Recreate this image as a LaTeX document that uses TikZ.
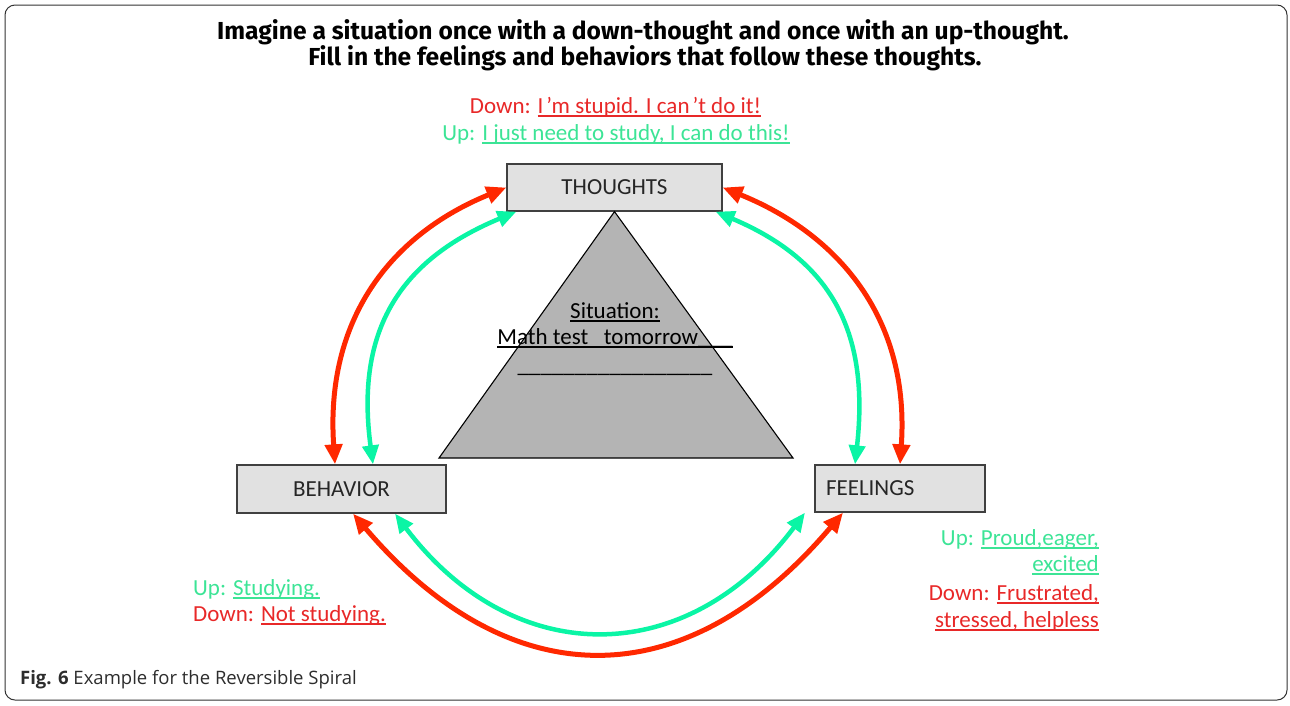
\documentclass[tikz,border=0pt]{standalone}
\usepackage{fontspec}
\setmainfont{Carlito}
\newfontfamily\titlefont{Fira Sans}
\newfontfamily\capfont{Open Sans}
\usetikzlibrary{arrows.meta}
\newcommand\myul[1]{\setbox0\hbox{#1}\rlap{\rule[-3.5pt]{\wd0}{1.1pt}}\box0}
\definecolor{arrred}{RGB}{255,40,0}
\definecolor{arrgreen}{RGB}{10,245,165}
\definecolor{txtred}{RGB}{232,40,40}
\definecolor{txtgreen}{RGB}{60,228,150}
\definecolor{boxfill}{RGB}{225,225,225}
\definecolor{trifill}{RGB}{180,180,180}
\definecolor{capgray}{RGB}{45,45,45}
\begin{document}
\begin{tikzpicture}[x=1pt,y=-1pt,
  every node/.style={font=\fontsize{23}{27}\selectfont, inner sep=0pt},
  boxnode/.style={draw=black!75, line width=1.3pt, fill=boxfill, text=black!85},
  redarr/.style={draw=arrred, line width=5pt, arrows={Triangle[length=20pt,width=17pt]-Triangle[length=20pt,width=17pt]}},
  greenarr/.style={draw=arrgreen, line width=4.5pt, arrows={Triangle[length=19pt,width=16pt]-Triangle[length=19pt,width=16pt]}},
  redtxt/.style={text=txtred},
  greentxt/.style={text=txtgreen},
  titletxt/.style={font=\titlefont\bfseries\fontsize{24.6}{29}\selectfont, text=black},
  captxt/.style={font=\capfont\fontsize{18.5}{22}\selectfont, text=capgray}]
\useasboundingbox (0,0) rectangle (1290,705);
\draw[rounded corners=10pt, line width=1pt, black!80] (5,5) rectangle (1287,700);

% title
\node[titletxt, anchor=base] (t1) at (643,39) {Imagine a situation once with a down-thought and once with an up-thought.};
\node[titletxt, anchor=base] (t2) at (645,65) {Fill in the feelings and behaviors that follow these thoughts.};

% boxes
\node[boxnode, minimum width=215pt, minimum height=47pt] (th) at (614.5,187.5) {THOUGHTS};
\node[boxnode, minimum width=209pt, minimum height=48pt] (be) at (341.5,489) {BEHAVIOR};
\node[boxnode, minimum width=170pt, minimum height=47pt, text width=148pt, align=left, inner xsep=11pt] (fe) at (900,488.5) {FEELINGS};

% triangle
\filldraw[fill=trifill, draw=black, line width=1.1pt] (th.south) -- (793,458) -- (439,458) -- cycle;
\node[anchor=base] (sit) at (615,318) {\myul{Situation:}};
\node[anchor=base] (math) at (615,344) {\myul{Math test\ \ \ tomorrow\_\_\_}};
\node[anchor=base] (blank) at (615,372) {\_\_\_\_\_\_\_\_\_\_\_\_\_\_\_\_\_};

% arrows
\draw[redarr] ([xshift=-6.5pt]be.north) .. controls (325,320) and (390,235) .. (th.west);
\draw[greenarr] ([xshift=31.5pt]be.north) .. controls (355,330) and (400,260) .. ([xshift=10pt]th.south west);
\draw[redarr] (th.east) .. controls (840,235) and (910,320) .. (fe.north);
\draw[greenarr] ([xshift=-7pt]th.south east) .. controls (830,260) and (870,330) .. ([xshift=-45pt]fe.north);
\draw[greenarr] ([xshift=53.5pt]be.south) .. controls (513,670) and (687,670) .. ([xshift=-95pt]fe.south);
\draw[redarr] ([xshift=11.5pt]be.south) .. controls (510,698) and (686,698) .. ([xshift=-57pt]fe.south);

% thought texts
\node[redtxt, anchor=base] (tdown) at (615.5,113) {Down: \myul{I\kern3pt’m stupid. I can\kern3pt’t do it!}};
\node[greentxt, anchor=base] (tup) at (616,140) {Up: \myul{I just need to study, I can do this!}};

% behavior texts
\node[greentxt, anchor=base west] (bup) at (193,595) {Up: \myul{Studying.}};
\node[redtxt, anchor=base west] (bdown) at (193,621) {Down: \myul{Not studying.}};

% feelings texts
\node[greentxt, anchor=base east] (fup1) at (1099,545) {Up: \myul{Proud,eager,}};
\node[greentxt, anchor=base east] (fup2) at (1099,571) {\myul{excited}};
\node[redtxt, anchor=base east] (fdown1) at (1099,600) {Down: \myul{Frustrated,}};
\node[redtxt, anchor=base east] (fdown2) at (1099,627) {\myul{stressed, helpless}};

% caption
\node[captxt, anchor=base west] (cap) at (20,684) {\textbf{Fig. 6} Example for the Reversible Spiral};
\end{tikzpicture}
\end{document}
